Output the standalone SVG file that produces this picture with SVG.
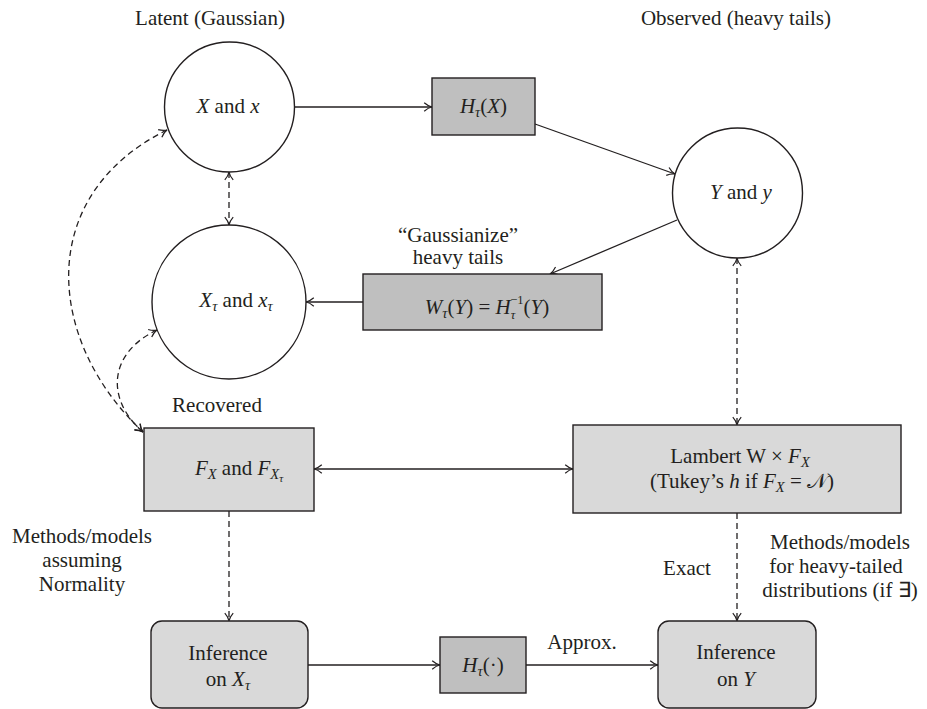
<svg xmlns="http://www.w3.org/2000/svg" width="927" height="709" viewBox="0 0 927 709">
<style>
text{font-size:21px;fill:#231f20;text-anchor:middle}
.i{font-style:italic}
.s{font-size:14.5px}
.sm{font-size:12.5px}
.ss{font-size:11px}
.node{stroke:#231f20;stroke-width:1.4}
.circ{fill:#fff}
.dark{fill:#bfbfbf}
.light{fill:#d9d9d9}
.ln{fill:none;stroke:#231f20;stroke-width:1.3}
.d{stroke-dasharray:6,4}
</style>
<defs>
<marker id="arr" viewBox="0 0 10 10" refX="9.3" refY="5" markerWidth="10" markerHeight="10" markerUnits="userSpaceOnUse" orient="auto-start-reverse">
<path d="M1.5,0.8 Q5.5,4.3 9.3,5 Q5.5,5.7 1.5,9.2" fill="none" stroke="#231f20" stroke-width="1.2" stroke-dasharray="none"/>
</marker>
</defs>
<rect width="927" height="709" fill="#fff"/>

<g id="labels">
<text font-family="Liberation Serif" x="210" y="25">Latent (Gaussian)</text>
<text font-family="Liberation Serif" x="736" y="25">Observed (heavy tails)</text>
<text font-family="Liberation Serif" x="458" y="242">“Gaussianize”</text>
<text font-family="Liberation Serif" x="458" y="264">heavy tails</text>
<text font-family="Liberation Serif" x="217" y="412">Recovered</text>
<text font-family="Liberation Serif" x="82" y="543">Methods/models</text>
<text font-family="Liberation Serif" x="82" y="567">assuming</text>
<text font-family="Liberation Serif" x="82" y="591">Normality</text>
<text font-family="Liberation Serif" x="840" y="549">Methods/models</text>
<text font-family="Liberation Serif" x="836" y="573">for heavy-tailed</text>
<text font-family="Liberation Serif" x="840" y="597">distributions (if ∃)</text>
<text font-family="Liberation Serif" x="687" y="575">Exact</text>
<text font-family="Liberation Serif" x="582" y="649">Approx.</text>
</g>

<g id="connectors">
<path class="ln" d="M294,107 L432,107" marker-end="url(#arr)"/>
<path class="ln" d="M535,124 L675,174" marker-end="url(#arr)"/>
<path class="ln" d="M677,220 L550,274" marker-end="url(#arr)"/>
<path class="ln" d="M363,302 L306,302" marker-end="url(#arr)"/>
<path class="ln d" d="M229,172 L229,225" marker-start="url(#arr)" marker-end="url(#arr)"/>
<path class="ln d" d="M167,130 C35,195 45,340 143,432" marker-start="url(#arr)" marker-end="url(#arr)"/>
<path class="ln d" d="M157,330 C110,352 104,398 143,432" marker-start="url(#arr)" marker-end="url(#arr)"/>
<path class="ln d" d="M737,258 L737,425" marker-start="url(#arr)" marker-end="url(#arr)"/>
<path class="ln" d="M314,469 L573,469" marker-start="url(#arr)" marker-end="url(#arr)"/>
<path class="ln d" d="M229,511 L229,621" marker-end="url(#arr)"/>
<path class="ln d" d="M737,513 L737,621" marker-end="url(#arr)"/>
<path class="ln" d="M308,665 L440,665" marker-end="url(#arr)"/>
<path class="ln" d="M526,665 L658,665" marker-end="url(#arr)"/>
</g>

<g id="node-X">
<circle class="node circ" cx="229.5" cy="107" r="65"/>
<text font-family="Liberation Serif" x="228" y="113"><tspan class="i">X</tspan> and <tspan class="i">x</tspan></text>
</g>

<g id="node-H">
<rect class="node dark" x="432" y="78" width="103" height="57"/>
<text font-family="Liberation Serif" x="483.5" y="113"><tspan class="i">H</tspan><tspan class="i s" dy="4">τ</tspan><tspan dy="-4">(</tspan><tspan class="i">X</tspan>)</text>
</g>

<g id="node-Y">
<circle class="node circ" cx="737.5" cy="193" r="65"/>
<text font-family="Liberation Serif" x="741" y="199"><tspan class="i">Y</tspan> and <tspan class="i">y</tspan></text>
</g>

<g id="node-W">
<rect class="node dark" x="363" y="274" width="239" height="56"/>
<text font-family="Liberation Serif" x="487" y="314"><tspan class="i">W</tspan><tspan class="i s" dy="4">τ</tspan><tspan dy="-4">(</tspan><tspan class="i">Y</tspan>) = <tspan class="i">H</tspan><tspan class="i sm" dy="5">τ</tspan><tspan class="sm" dx="-5" dy="-15">−1</tspan><tspan dy="10">(</tspan><tspan class="i">Y</tspan>)</text>
</g>

<g id="node-Xtau">
<circle class="node circ" cx="229" cy="302" r="77"/>
<text font-family="Liberation Serif" x="236" y="307"><tspan class="i">X</tspan><tspan class="i s" dy="4">τ</tspan><tspan dy="-4"> and </tspan><tspan class="i">x</tspan><tspan class="i s" dy="4">τ</tspan></text>
</g>

<g id="node-F">
<rect class="node light" x="144" y="428" width="170" height="83"/>
<text font-family="Liberation Serif" x="239" y="475"><tspan class="i">F</tspan><tspan class="i s" dy="4">X</tspan><tspan dy="-4"> and </tspan><tspan class="i">F</tspan><tspan class="i s" dy="4">X</tspan><tspan class="i ss" dy="3">τ</tspan></text>
</g>

<g id="node-Lambert">
<rect class="node light" x="573" y="425" width="328" height="88"/>
<text font-family="Liberation Serif" x="740" y="463">Lambert W × <tspan class="i">F</tspan><tspan class="i s" dy="4">X</tspan></text>
<text font-family="Liberation Serif" x="742" y="488">(Tukey’s <tspan class="i">h</tspan> if <tspan class="i">F</tspan><tspan class="i s" dy="4">X</tspan><tspan dy="-4"> = </tspan><tspan>𝒩</tspan>)</text>
</g>

<g id="node-InfX">
<rect class="node light" x="151" y="621" width="157" height="87" rx="11"/>
<text font-family="Liberation Serif" x="228" y="660">Inference</text>
<text font-family="Liberation Serif" x="228" y="686">on <tspan class="i">X</tspan><tspan class="i s" dy="4">τ</tspan></text>
</g>

<g id="node-Hdot">
<rect class="node dark" x="440" y="637" width="86" height="56"/>
<text font-family="Liberation Serif" x="483" y="672"><tspan class="i">H</tspan><tspan class="i s" dy="4">τ</tspan><tspan dy="-4">(·)</tspan></text>
</g>

<g id="node-InfY">
<rect class="node light" x="658" y="621" width="158" height="87" rx="11"/>
<text font-family="Liberation Serif" x="736" y="659">Inference</text>
<text font-family="Liberation Serif" x="736" y="686">on <tspan class="i">Y</tspan></text>
</g>
</svg>
